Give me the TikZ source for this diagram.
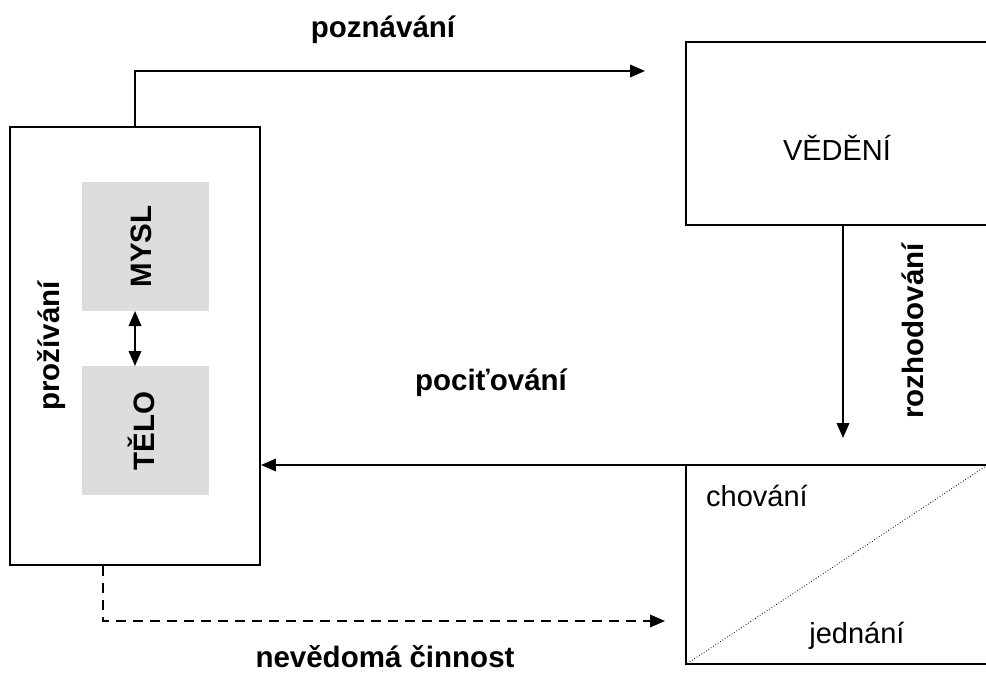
\documentclass[tikz,border=0pt]{standalone}
\usepackage{fontspec}
\setmainfont{Liberation Sans}
\usetikzlibrary{arrows.meta}
\begin{document}
\begin{tikzpicture}[x=1pt,y=-1pt,
  box/.style={draw, line width=1.9pt, inner sep=0pt},
  graybox/.style={fill={rgb,255:red,221;green,221;blue,221}, inner sep=0pt, minimum width=127pt, minimum height=129pt},
  arr/.style={line width=1.9pt, -{Triangle[length=15pt,width=12.5pt]}},
  darr/.style={line width=1.9pt, {Triangle[length=15pt,width=12.5pt]}-{Triangle[length=15pt,width=12.5pt]}},
  lbl/.style={font=\fontsize{29.5}{34}\selectfont\bfseries, inner sep=0pt},
  txt/.style={font=\fontsize{29}{34}\selectfont, inner sep=0pt}
]
\clip (0,0) rectangle (986,675);
\fill[white] (0,0) rectangle (986,675);
% left box
\node[box, minimum width=250pt, minimum height=438pt] (exp) at (135,346) {};
\node[graybox] (mysl) at (145.5,246.5) {};
\node[graybox] (telo) at (145.5,430.5) {};
\node[lbl, rotate=90] (mysltxt) at (141,246.5) {MYSL};
\node[lbl, rotate=90] (telotxt) at (141,431) {TĚLO};
\node[lbl, rotate=90] (proz) at (52,346) {prožívání};
\draw[darr] (135,311) -- (135,366);
% right boxes
\node[box, minimum width=302pt, minimum height=183pt] (ved) at (837,133.5) {};
\node[txt] (vedtxt) at (837,148) {VĚDĚNÍ};
\node[box, minimum width=302pt, minimum height=199pt] (beh) at (837,564.5) {};
\draw[line width=0.8pt, dotted] (beh.south west) -- (beh.north east);
\node[txt] (chov) at (757,496) {chování};
\node[txt] (jedn) at (857,636) {jednání};
% connectors
\coordinate (pz) at (645,71);
\draw[arr] (exp.north) |- (pz);
\node[lbl] (poz) at (383,30) {poznávání};
\coordinate (rz) at (843,438);
\draw[arr] (ved.south -| rz) -- (rz);
\node[lbl, rotate=90] (rozh) at (913,331) {rozhodování};
\coordinate (hs) at (697,465);
\draw[arr] (hs) -- (exp.east |- hs);
\node[lbl] (poc) at (491,383) {pociťování};
\coordinate (dz) at (665,621);
\draw[arr, dash pattern=on 10pt off 7pt] (exp.south -| 103,0) |- (dz);
\node[lbl] (nev) at (385,657) {nevědomá činnost};
\end{tikzpicture}
\end{document}
